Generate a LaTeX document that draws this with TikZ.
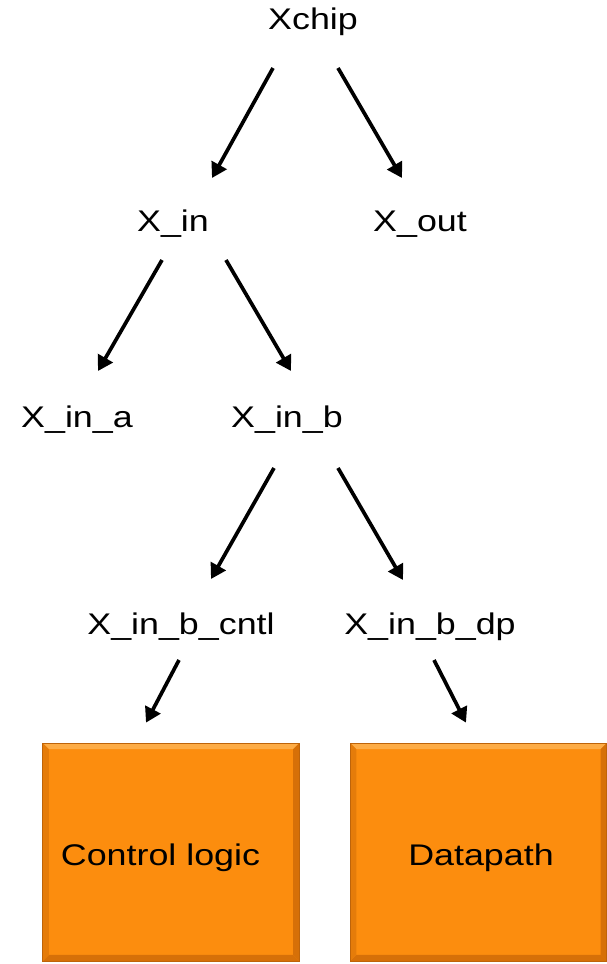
\documentclass[tikz,border=0pt]{standalone}
\usepackage{fontspec}
\setmainfont{Liberation Sans}[FakeStretch=1.2]
\usetikzlibrary{arrows.meta,calc}
\definecolor{boxorange}{RGB}{252,141,14}
\definecolor{boxlight}{RGB}{253,172,70}
\definecolor{boxdark}{RGB}{214,112,8}
\definecolor{boxedge}{RGB}{190,100,10}
\tikzset{
treelabel/.style={anchor=base, inner sep=0pt, font=\fontsize{17pt}{20pt}\selectfont},
treearrow/.style={-{Triangle[length=8.5pt,width=9.5pt]}, line width=2.1pt},
chipbox/.style={fill=boxorange, draw=boxedge, line width=0.4pt, inner sep=0pt,
  minimum width=5.13cm, minimum height=4.36cm,
  path picture={
    \fill[boxlight] (path picture bounding box.north west) -- (path picture bounding box.north east)
      -- ([xshift=-3.5pt,yshift=-3.5pt]path picture bounding box.north east)
      -- ([xshift=3.5pt,yshift=-3.5pt]path picture bounding box.north west) -- cycle;
    \fill[boxdark] (path picture bounding box.north east) -- (path picture bounding box.south east)
      -- ([xshift=-3.5pt,yshift=3.5pt]path picture bounding box.south east)
      -- ([xshift=-3.5pt,yshift=-3.5pt]path picture bounding box.north east) -- cycle;
    \fill[boxdark] (path picture bounding box.south west) -- (path picture bounding box.south east)
      -- ([xshift=-3.5pt,yshift=3.5pt]path picture bounding box.south east)
      -- ([xshift=3.5pt,yshift=3.5pt]path picture bounding box.south west) -- cycle;
    \fill[boxdark!60!boxorange] (path picture bounding box.north west) -- (path picture bounding box.south west)
      -- ([xshift=3.5pt,yshift=3.5pt]path picture bounding box.south west)
      -- ([xshift=3.5pt,yshift=-3.5pt]path picture bounding box.north west) -- cycle;
  }}
}

\begin{document}
\begin{tikzpicture}[x=0.02cm,y=-0.02cm]
\useasboundingbox (0,0) rectangle (607,964);

% the hierarchy
\node[treelabel] (xchip) at (313,29) {Xchip};
\node[treelabel] (xin) at (173,231) {X\_in};
\node[treelabel] (xout) at (420,231) {X\_out};
\node[treelabel] (xina) at (77,427) {X\_in\_a};
\node[treelabel] (xinb) at (287,427) {X\_in\_b};
\node[treelabel] (xcntl) at (181,634) {X\_in\_b\_cntl};
\node[treelabel] (xdp) at (430,634) {X\_in\_b\_dp};

% leaf blocks
\node[chipbox] (cbox) at (171,852) {};
\node[chipbox] (dbox) at (478.5,852) {};
\node[treelabel] (clabel) at ($(cbox.center)+(-10.5,13)$) {Control logic};
\node[treelabel] (dlabel) at ($(dbox.center)+(2.5,13)$) {Datapath};

\draw[treearrow] ($(xchip.base)+(-40,39)$) -- ($(xin.base)+(39,-53)$);
\draw[treearrow] ($(xchip.base)+(25,39)$) -- ($(xout.base)+(-18,-53)$);
\draw[treearrow] ($(xin.base)+(-11,29)$) -- ($(xina.base)+(21,-56)$);
\draw[treearrow] ($(xin.base)+(53,29)$) -- ($(xinb.base)+(4,-56)$);
\draw[treearrow] ($(xinb.base)+(-13,41)$) -- ($(xcntl.base)+(30,-55)$);
\draw[treearrow] ($(xinb.base)+(51,41)$) -- ($(xdp.base)+(-27,-54)$);
\draw[treearrow] ($(xcntl.base)+(-2,26)$) -- ($(cbox.north)+(-25,-20)$);
\draw[treearrow] ($(xdp.base)+(4,26)$) -- ($(dbox.north)+(-12.5,-20)$);
\end{tikzpicture}
\end{document}
